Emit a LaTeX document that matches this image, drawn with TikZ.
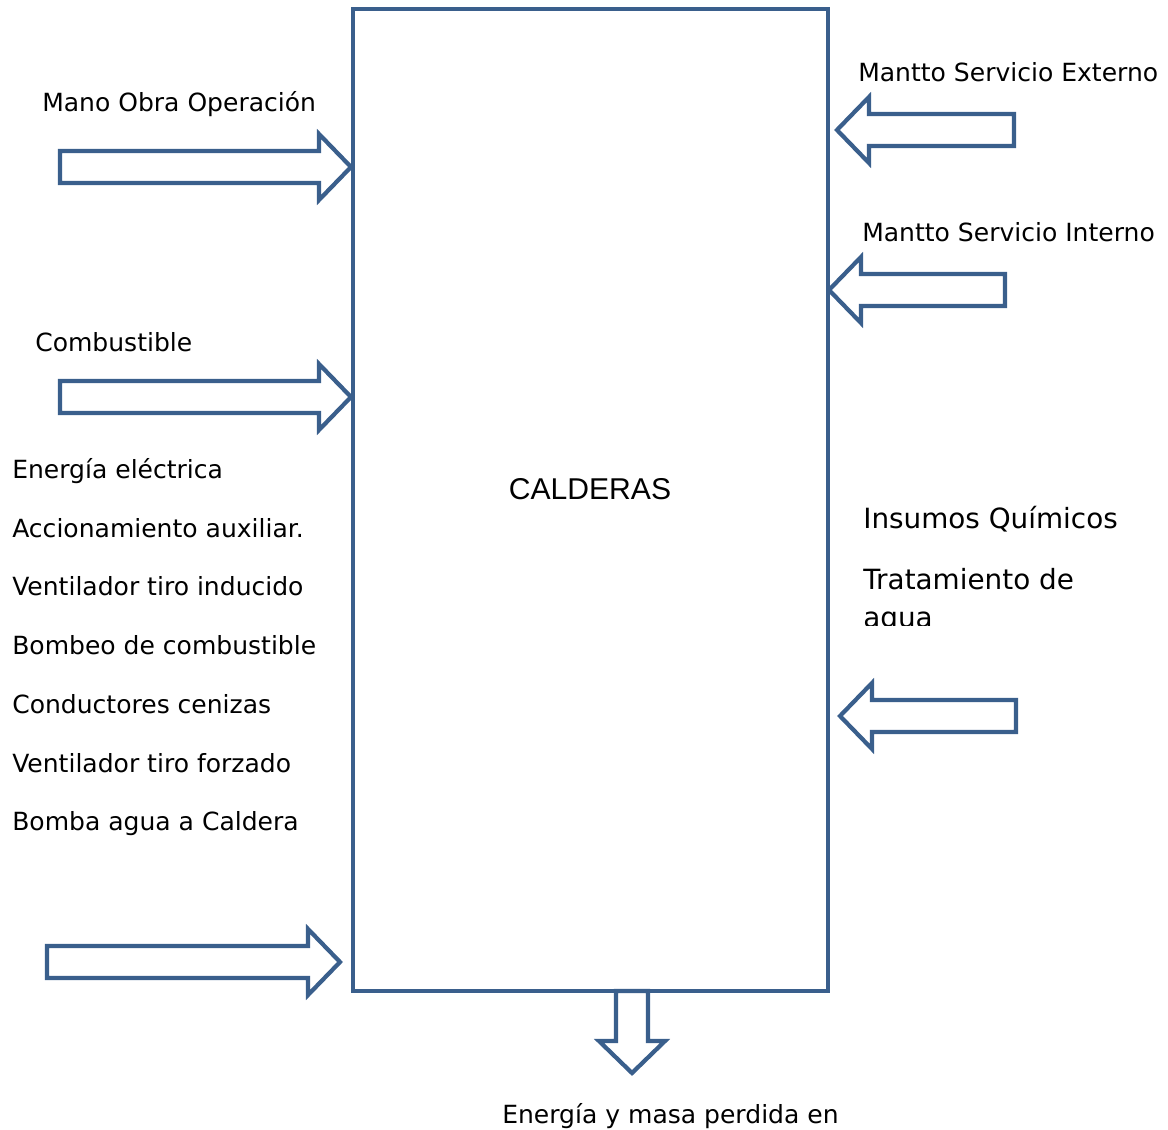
\documentclass[tikz,border=0pt]{standalone}
\usepackage{fontspec}
\setmainfont{DejaVu Sans}
\newfontfamily\arialfont{Liberation Sans}
\usepackage{tikz}
\definecolor{azulborde}{RGB}{58,95,140}

\begin{document}
\begin{tikzpicture}[x=0.025cm,y=-0.025cm,
    borde/.style={draw=azulborde,line width=3pt,fill=white},
    etiqueta/.style={anchor=base west,inner sep=0pt,font=\fontsize{17.8}{21}\selectfont},
    grande/.style={etiqueta,font=\fontsize{19.8}{23}\selectfont},
    pics/flecha/.style={code={
      \draw[borde] (0,0) -- (-32,-33) -- (-32,-16) -- (-#1,-16) -- (-#1,16) -- (-32,16) -- (-32,33) -- cycle;
    }}]
    \useasboundingbox (0,0) rectangle (1168,1129);
    % caja principal
    \draw[borde] (353,9) rectangle (828,991);
    \node (calderas) [anchor=base,inner sep=0pt,font=\arialfont\fontsize{21.4}{24}\selectfont] at (590,499) {CALDERAS};
    % entradas por la izquierda
    \pic at (351,167) {flecha=291};
    \pic at (351,397) {flecha=291};
    \pic at (340,962) {flecha=293};
    \node (mano) [etiqueta] at (42,112) {Mano Obra Operación};
    \node (combustible) [etiqueta] at (35,351) {Combustible};
    \node (energia) [etiqueta] at (12,478) {Energía eléctrica};
    \node (accionamiento) [etiqueta] at (12,537) {Accionamiento auxiliar.};
    \node (inducido) [etiqueta] at (12,595) {Ventilador tiro inducido};
    \node (bombeo) [etiqueta] at (12,654) {Bombeo de combustible};
    \node (cenizas) [etiqueta] at (12,713) {Conductores cenizas};
    \node (forzado) [etiqueta] at (12,772) {Ventilador tiro forzado};
    \node (bomba) [etiqueta] at (12,830) {Bomba agua a Caldera};
    % entradas por la derecha
    \pic[rotate=180] at (837,130) {flecha=177};
    \pic[rotate=180] at (829,290) {flecha=176};
    \pic[rotate=180] at (840,716) {flecha=176};
    \node (externo) [etiqueta] at (858,82) {Mantto Servicio Externo};
    \node (interno) [etiqueta] at (862,241) {Mantto Servicio Interno};
    \node (insumos) [grande] at (863,528) {Insumos Químicos};
    \node (tratamiento) [grande] at (863,589) {Tratamiento de};
    \begin{scope}
      \clip (850,600) rectangle (1168,625);
      \node (agua) [grande] at (863,627) {agua};
    \end{scope}
    % salida
    \pic[rotate=-90] at (632,1073) {flecha=82};
    \node (perdida) [etiqueta] at (502,1123) {Energía y masa perdida en};
\end{tikzpicture}
\end{document}
